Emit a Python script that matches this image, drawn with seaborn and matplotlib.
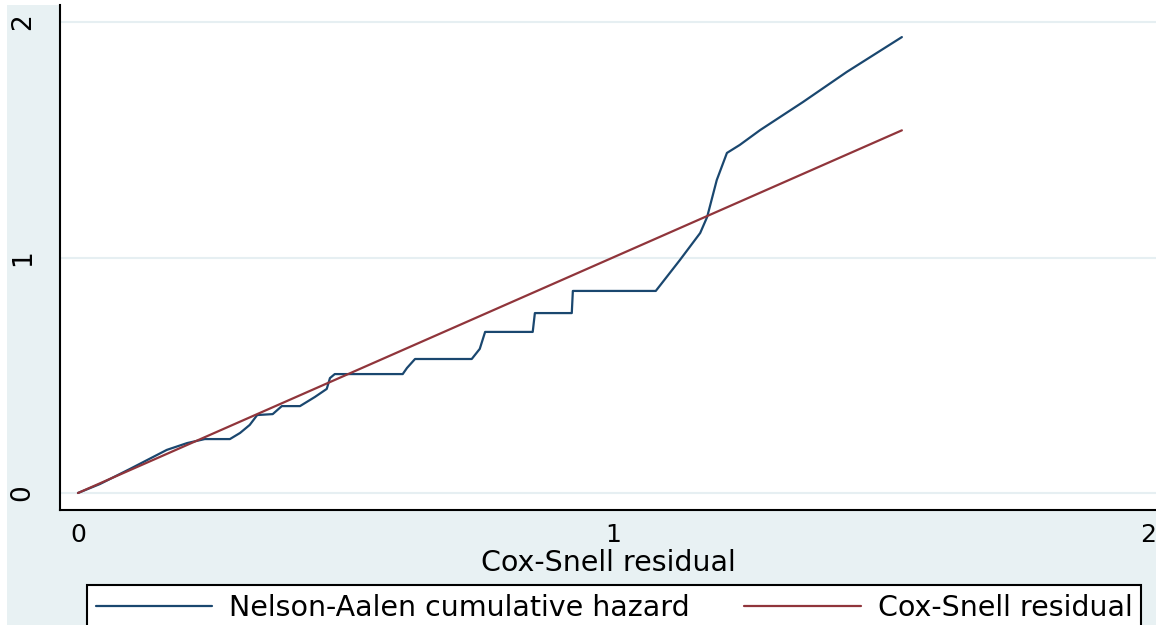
import numpy as np
import pandas as pd
import matplotlib.pyplot as plt
import seaborn as sns
from matplotlib.patches import Rectangle

# Nelson-Aalen cumulative hazard of the Cox-Snell residuals
cs_resid = [0.0, 0.041, 0.097, 0.166, 0.204, 0.237, 0.284, 0.303, 0.321, 0.335,
            0.364, 0.381, 0.415, 0.443, 0.465, 0.471, 0.480, 0.607, 0.615, 0.630,
            0.736, 0.751, 0.761, 0.850, 0.854, 0.923, 0.925, 1.080, 1.125, 1.163,
            1.176, 1.194, 1.213, 1.237, 1.275, 1.355, 1.437, 1.540]
na_hazard = [0.0, 0.038, 0.102, 0.183, 0.212, 0.229, 0.229, 0.255, 0.289, 0.331,
             0.335, 0.369, 0.369, 0.408, 0.442, 0.488, 0.505, 0.505, 0.531, 0.569,
             0.569, 0.612, 0.684, 0.684, 0.764, 0.764, 0.858, 0.858, 0.989, 1.104,
             1.172, 1.329, 1.444, 1.478, 1.541, 1.660, 1.788, 1.936]

# reference line: Cox-Snell residual against itself
ref_line = [0.0, 1.54]

ticks = [0, 1, 2]
tick_labels = ["0", "1", "2"]

BG = "#E8F1F3"
BLUE = "#1A476F"
RED = "#90353B"

sns.set_style("white")
plt.rcParams["font.family"] = ["DejaVu Sans"]
plt.rcParams["text.color"] = "black"

fig = plt.figure(figsize=(11.56, 6.25), dpi=100)
fig.patch.set_facecolor("white")
# graph region background (image is cropped with a thin white strip left and top)
fig.patches.append(Rectangle((7 / 1156, 0), 1, 1 - 5 / 625, transform=fig.transFigure,
                             facecolor=BG, edgecolor="none", zorder=-10))

ax = fig.add_axes([60 / 1156, 115 / 625, 1096 / 1156, 505 / 625])
ax.set_facecolor("white")

sns.lineplot(x=cs_resid, y=na_hazard, ax=ax, color=BLUE, lw=1.6, estimator=None,
             label="Nelson-Aalen cumulative hazard")
sns.lineplot(x=ref_line, y=ref_line, ax=ax, color=RED, lw=1.6, estimator=None,
             label="Cox-Snell residual")

ax.set_xlim(-0.0336, 2.015)
ax.set_ylim(-0.0722, 2.0722)
ax.set_xticks(ticks)
ax.set_xticklabels(tick_labels)
ax.set_yticks(ticks)
ax.set_yticklabels(tick_labels, rotation=90, va="center")

ax.grid(axis="y", color="#E6EFF2", lw=1.5)
ax.set_axisbelow(True)
for side in ["top", "right"]:
    ax.spines[side].set_visible(False)
for side in ["left", "bottom"]:
    ax.spines[side].set_color("black")
    ax.spines[side].set_linewidth(1.5)

ax.tick_params(axis="y", length=8.5, width=1.5, labelsize=19, pad=9, colors="black")
ax.tick_params(axis="x", length=5, width=1.5, labelsize=18, pad=4, colors="black")
ax.set_xlabel("Cox-Snell residual", fontsize=20.5, labelpad=2, color="black")
ax.set_ylabel("")

handles, labels = ax.get_legend_handles_labels()
ax.get_legend().remove()
leg = fig.legend(handles, labels, loc="upper left",
                 bbox_to_anchor=(87 / 1156, 1 - 585 / 625, (1141 - 87) / 1156, 0.0),
                 mode="expand", ncol=2, fontsize=20.5, frameon=True, fancybox=False,
                 edgecolor="black", facecolor="white", framealpha=1, borderpad=0.3,
                 borderaxespad=0, handlelength=4.1, handletextpad=0.6)
leg.get_frame().set_linewidth(1.5)

fig.savefig("out.png", dpi=100)
